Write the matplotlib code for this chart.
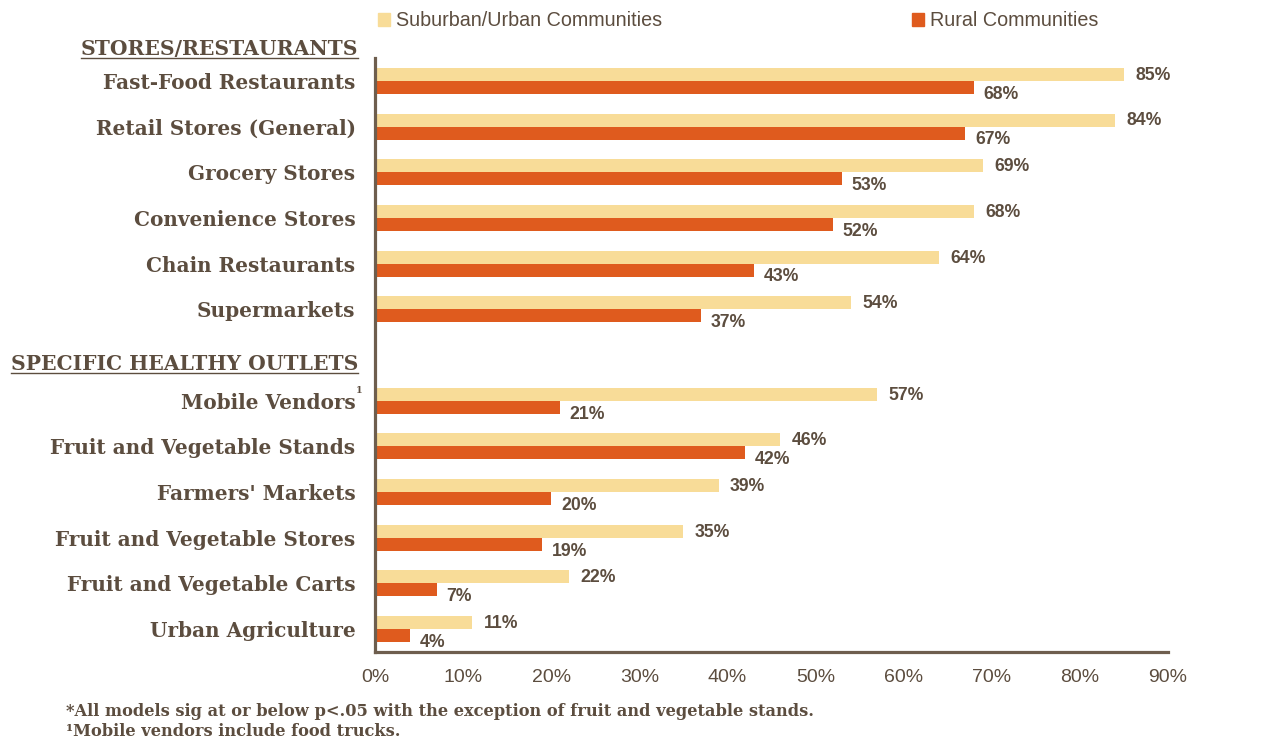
import numpy as np
import matplotlib.pyplot as plt
from matplotlib.patches import Patch
from matplotlib.lines import Line2D
from matplotlib.transforms import blended_transform_factory

# values
stores = ["Fast-Food Restaurants", "Retail Stores (General)", "Grocery Stores",
          "Convenience Stores", "Chain Restaurants", "Supermarkets"]
healthy = ["Mobile Vendors", "Fruit and Vegetable Stands", "Farmers' Markets",
           "Fruit and Vegetable Stores", "Fruit and Vegetable Carts", "Urban Agriculture"]
suburban = [85, 84, 69, 68, 64, 54, 57, 46, 39, 35, 22, 11]
rural = [68, 67, 53, 52, 43, 37, 21, 42, 20, 19, 7, 4]
xticks = [0, 10, 20, 30, 40, 50, 60, 70, 80, 90]

yellow = "#F8DC98"
orange = "#DF5B1E"
text_col = "#5C4D3F"
spine_col = "#6E5E4E"
serif = "DejaVu Serif"
sans = "Liberation Sans"

fig = plt.figure(figsize=(12.81, 7.49), dpi=100)
ax = fig.add_axes([375 / 1281, 1 - 652 / 749, 793 / 1281, 594 / 749])

labels = stores + healthy
pos = np.array(list(range(6)) + list(range(7, 13)))
h = 0.285

ax.barh(pos - h / 2, suburban, height=h, color=yellow, label="Suburban/Urban Communities")
ax.barh(pos + h / 2, rural, height=h, color=orange, label="Rural Communities")

for p, s, r in zip(pos, suburban, rural):
    ax.text(s + 1.3, p - h / 2 + 0.02, f"{s}%", va="center", ha="left",
            fontsize=12.7, fontweight="bold", color=text_col, family=sans)
    ax.text(r + 1.1, p + h / 2 + 0.15, f"{r}%", va="center", ha="left",
            fontsize=12.7, fontweight="bold", color=text_col, family=sans)

ax.set_xlim(0, 90)
ax.set_ylim(12.5, -0.5)
ax.set_xticks(xticks)
ax.set_xticklabels([f"{t}%" for t in xticks], fontsize=14, color=text_col, family=sans)
ax.set_yticks(pos)
ax.set_yticklabels(labels, fontsize=14.4, fontweight="bold", color=text_col, family=serif)
ax.tick_params(axis="both", length=0)
ax.tick_params(axis="y", pad=14)
ax.tick_params(axis="x", pad=12)

for side in ["top", "right"]:
    ax.spines[side].set_visible(False)
for side in ["left", "bottom"]:
    ax.spines[side].set_color(spine_col)
    ax.spines[side].set_linewidth(2.3)

# section headers
trans = blended_transform_factory(ax.transAxes, ax.transData)
headers = []
for txt, yv in [("STORES/RESTAURANTS", -0.7), ("SPECIFIC HEALTHY OUTLETS", 6.2)]:
    t = ax.text(-0.021, yv, txt, transform=trans, ha="right", va="center",
                fontsize=14.6, fontweight="bold", color=text_col, family=serif,
                clip_on=False)
    headers.append(t)

# superscript on Mobile Vendors
ax.text(-0.024, 6.78, "1", transform=trans, ha="left", va="center",
        fontsize=7, fontweight="bold", color=text_col, family=serif, clip_on=False)

handles = [Patch(color=yellow), Patch(color=orange)]
fig.legend(handles, ["Suburban/Urban Communities", "Rural Communities"],
           loc="center left", bbox_to_anchor=(360 / 1281, 1 - 21 / 749), ncol=2,
           frameon=False, handlelength=0.6, handleheight=0.6, handletextpad=0.3,
           columnspacing=12.7, labelcolor=text_col,
           prop={"family": sans, "size": 14.2})

fig.text(66 / 1281, 1 - 711 / 749,
         "*All models sig at or below p<.05 with the exception of fruit and vegetable stands.",
         fontsize=11.7, fontweight="bold", color=text_col, family=serif, va="center")
fig.text(66 / 1281, 1 - 732 / 749, "\u00b9Mobile vendors include food trucks.",
         fontsize=11.7, fontweight="bold", color=text_col, family=serif, va="center")

# underline the headers
fig.canvas.draw()
r = fig.canvas.get_renderer()
for t in headers:
    bb = t.get_window_extent(renderer=r)
    y = (bb.y0 + 1) / fig.bbox.height
    fig.add_artist(Line2D([bb.x0 / fig.bbox.width, bb.x1 / fig.bbox.width], [y, y],
                          transform=fig.transFigure, color=text_col, lw=1.0))

plt.savefig("out.png", dpi=100)
